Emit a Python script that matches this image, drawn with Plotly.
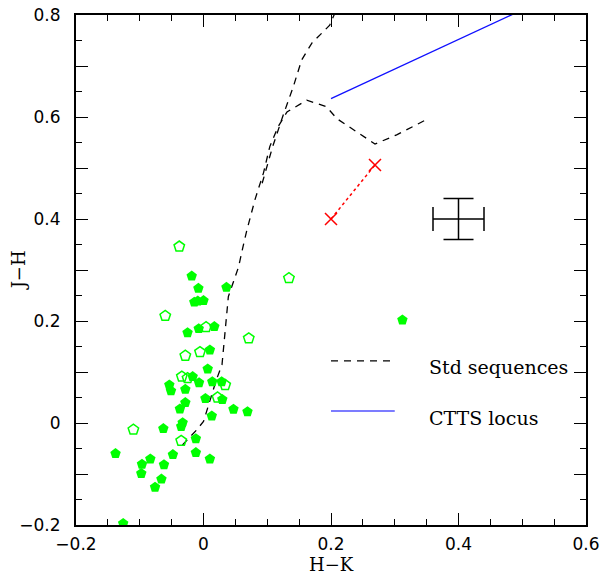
import plotly.graph_objects as go

# ---- data (H-K, J-H) ----
filled_hk = [-0.0185, -0.008, -0.0144, -0.009, 0.0, 0.036, -0.025, -0.0075, 0.017, 0.010,
             0.0066, -0.017, -0.007, 0.0138, 0.0285, -0.0536, -0.051, -0.0285, 0.003, 0.0295,
             -0.0285, -0.037, 0.047, 0.069, 0.013, -0.0327, -0.035, -0.063, -0.012, -0.138,
             -0.048, -0.012, 0.010, -0.0834, -0.0965, -0.062, -0.0976, -0.066, -0.076, -0.126,
             0.312]
filled_jh = [0.288, 0.264, 0.237, 0.239, 0.240, 0.266, 0.177, 0.185, 0.189, 0.143,
             0.106, 0.091, 0.079, 0.081, 0.081, 0.0745, 0.063, 0.066, 0.048, 0.046,
             0.040, 0.0275, 0.027, 0.022, 0.0137, 0.0007, -0.007, -0.011, -0.031, -0.060,
             -0.062, -0.058, -0.0706, -0.0706, -0.081, -0.082, -0.099, -0.110, -0.126, -0.197,
             0.202]
open_hk = [-0.038, -0.060, 0.004, 0.071, -0.0285, -0.0055, -0.034, -0.025, 0.034, 0.022,
           -0.110, -0.035, 0.134]
open_jh = [0.346, 0.210, 0.188, 0.166, 0.132, 0.139, 0.091, 0.088, 0.0745, 0.050,
           -0.013, -0.035, 0.284]

dwarf_hk = [-0.033, -0.011, 0.0, 0.013, 0.020, 0.029, 0.039, 0.047, 0.055, 0.062, 0.068,
            0.081, 0.094, 0.104, 0.117, 0.131, 0.162, 0.193, 0.209, 0.269, 0.303, 0.353]
dwarf_jh = [-0.043, -0.014, 0.003, 0.059, 0.084, 0.114, 0.248, 0.277, 0.306, 0.346, 0.378,
            0.439, 0.490, 0.542, 0.581, 0.610, 0.633, 0.620, 0.597, 0.547, 0.565, 0.597]
giant_hk = [0.092, 0.108, 0.124, 0.141, 0.154, 0.170, 0.198, 0.215]
giant_jh = [0.470, 0.540, 0.600, 0.660, 0.712, 0.745, 0.780, 0.830]

ctts_hk = [0.2, 0.55]
ctts_jh = [0.636, 0.839]

red_hk = [0.2, 0.269]
red_jh = [0.4, 0.506]

err_hk = [0.4]
err_jh = [0.4]
err_dx = [0.04]
err_dy = [0.04]

legend_labels = ["Std sequences", "CTTS locus"]
legend_hk = [0.2, 0.3]
legend_jh = [0.122, 0.0235]
legend_text_hk = 0.35
legend_text_jh = [0.110, 0.010]

GREEN = "#00ff00"
fig = go.Figure()

fig.add_trace(go.Scatter(x=dwarf_hk, y=dwarf_jh, mode="lines",
                         line=dict(color="black", width=1.3, dash="7px,6px")))
fig.add_trace(go.Scatter(x=giant_hk, y=giant_jh, mode="lines",
                         line=dict(color="black", width=1.3, dash="7px,6px")))
fig.add_trace(go.Scatter(x=ctts_hk, y=ctts_jh, mode="lines",
                         line=dict(color="#1010ff", width=1.3)))
fig.add_trace(go.Scatter(x=red_hk, y=red_jh, mode="lines+markers",
                         line=dict(color="red", width=1.5, dash="dot"),
                         marker=dict(symbol="x-thin", size=12, color="red",
                                     line=dict(color="red", width=1.5))))
fig.add_trace(go.Scatter(x=err_hk, y=err_jh, mode="markers",
                         marker=dict(size=1, color="rgba(0,0,0,0)"),
                         error_x=dict(type="data", array=err_dx, width=12, thickness=1.5, color="black"),
                         error_y=dict(type="data", array=err_dy, width=15, thickness=1.5, color="black")))
fig.add_trace(go.Scatter(x=open_hk, y=open_jh, mode="markers",
                         marker=dict(symbol="pentagon-open", size=11,
                                     line=dict(color=GREEN, width=1.5), color=GREEN)))
fig.add_trace(go.Scatter(x=filled_hk, y=filled_jh, mode="markers",
                         marker=dict(symbol="pentagon", size=11, color=GREEN,
                                     line=dict(width=0))))

# in-plot legend keys
key_styles = [dict(color="black", width=1.3, dash="7px,6px"), dict(color="#5050ff", width=1.5)]
for lab, yk, yt, st in zip(legend_labels, legend_jh, legend_text_jh, key_styles):
    fig.add_trace(go.Scatter(x=legend_hk, y=[yk, yk], mode="lines", line=st))
    fig.add_annotation(x=legend_text_hk, y=yt, text=lab, showarrow=False, xanchor="left",
                       yanchor="middle", font=dict(family="DejaVu Serif", size=19, color="black"))

titlefont = dict(family="DejaVu Serif", size=18, color="black")
fig.add_annotation(x=0.5, xref="paper", y=-0.1, yref="paper", text="H\u2212K", borderpad=0,
                   showarrow=False, font=titlefont, xanchor="center", yanchor="bottom")
fig.add_annotation(x=-0.113, xref="paper", y=0.5, yref="paper", text="J\u2212H", textangle=-90,
                   showarrow=False, font=titlefont, xanchor="center", yanchor="middle")

tickfont = dict(family="DejaVu Sans", size=17, color="black")
yvals = [-0.2, -0.1, 0, 0.1, 0.2, 0.3, 0.4, 0.5, 0.6, 0.7, 0.8]
ytext = ["\u22120.2", "", "0", "", "0.2", "", "0.4", "", "0.6", "", "0.8"]

fig.update_layout(
    width=602, height=576, showlegend=False,
    margin=dict(l=76, r=16, t=15, b=51),
    plot_bgcolor="white", paper_bgcolor="white",
    xaxis=dict(range=[-0.2, 0.6], showgrid=False, zeroline=False, showline=True, automargin=False,
               linecolor="black", linewidth=2, mirror="ticks", ticks="inside",
               tickmode="linear", tick0=-0.2, dtick=0.2, ticklen=12, tickwidth=1.2,
               tickcolor="black", tickfont=tickfont, ticklabelstandoff=3,
               minor=dict(dtick=0.05, ticklen=6, ticks="inside", tickcolor="black", tickwidth=1.2)),
    yaxis=dict(range=[-0.2, 0.8], showgrid=False, zeroline=False, showline=True, automargin=False,
               linecolor="black", linewidth=2, mirror="ticks", ticks="inside",
               tickmode="array", tickvals=yvals, ticktext=ytext, ticklen=12, tickwidth=1.2,
               tickcolor="black", tickfont=tickfont, ticklabelstandoff=10,
               minor=dict(dtick=0.05, ticklen=6, ticks="inside", tickcolor="black", tickwidth=1.2)),
)

fig.write_html("out.html")
